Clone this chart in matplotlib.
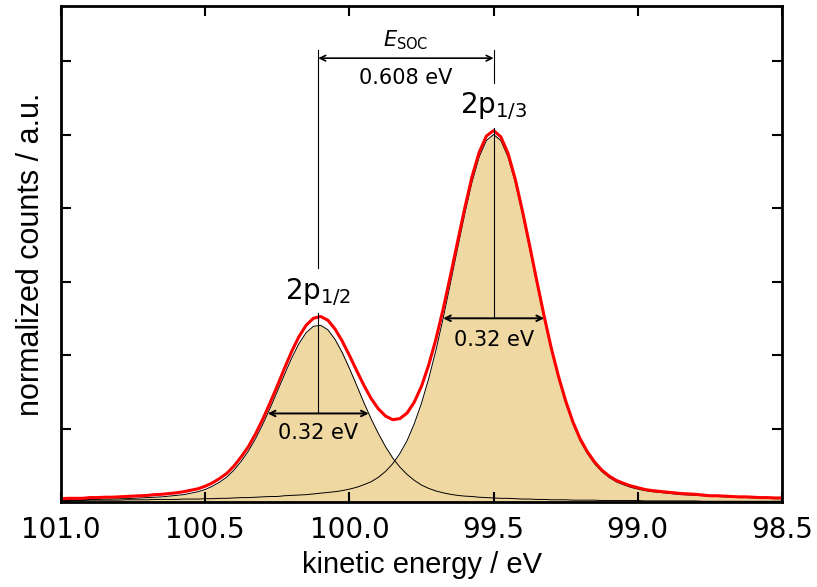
import matplotlib
matplotlib.use('Agg')
import matplotlib.pyplot as plt
import numpy as np
from matplotlib.ticker import FormatStrFormatter, MultipleLocator

# kinetic energy grid (eV), 0.025 eV steps from 101.0 down to 98.5
energy = np.linspace(101.0, 98.5, 101)

# 2p1/2 component (normalized counts)
comp_12 = [
    0.005, 0.006, 0.006, 0.006, 0.007, 0.007, 0.008, 0.008, 0.009, 0.009,
    0.010, 0.011, 0.012, 0.013, 0.014, 0.016, 0.018, 0.020, 0.024, 0.028,
    0.034, 0.043, 0.054, 0.068, 0.087, 0.111, 0.139, 0.173, 0.212, 0.255,
    0.301, 0.347, 0.392, 0.431, 0.461, 0.478, 0.481, 0.469, 0.443, 0.407,
    0.364, 0.318, 0.271, 0.227, 0.187, 0.151, 0.120, 0.095, 0.075, 0.059,
    0.046, 0.037, 0.030, 0.025, 0.021, 0.018, 0.016, 0.015, 0.013, 0.012,
    0.011, 0.010, 0.010, 0.009, 0.008, 0.008, 0.007, 0.007, 0.006, 0.006,
    0.006, 0.005, 0.005, 0.005, 0.005, 0.004, 0.004, 0.004, 0.004, 0.004,
    0.004, 0.003, 0.003, 0.003, 0.003, 0.003, 0.003, 0.003, 0.003, 0.002,
    0.002, 0.002, 0.002, 0.002, 0.002, 0.002, 0.002, 0.002, 0.002, 0.002,
    0.002,
]

# 2p1/3 component
comp_13 = [
    0.004, 0.004, 0.004, 0.004, 0.005, 0.005, 0.005, 0.005, 0.005, 0.006,
    0.006, 0.006, 0.006, 0.007, 0.007, 0.007, 0.007, 0.008, 0.008, 0.008,
    0.009, 0.009, 0.010, 0.010, 0.011, 0.012, 0.012, 0.013, 0.014, 0.015,
    0.015, 0.017, 0.018, 0.019, 0.020, 0.022, 0.024, 0.026, 0.028, 0.031,
    0.035, 0.040, 0.047, 0.055, 0.067, 0.083, 0.104, 0.132, 0.167, 0.213,
    0.269, 0.336, 0.413, 0.500, 0.594, 0.690, 0.784, 0.870, 0.939, 0.984,
    1.000, 0.984, 0.939, 0.870, 0.784, 0.690, 0.594, 0.500, 0.413, 0.336,
    0.269, 0.213, 0.167, 0.132, 0.104, 0.083, 0.067, 0.055, 0.047, 0.040,
    0.035, 0.031, 0.028, 0.026, 0.024, 0.022, 0.020, 0.019, 0.018, 0.017,
    0.015, 0.015, 0.014, 0.013, 0.012, 0.012, 0.011, 0.010, 0.010, 0.009,
    0.009,
]

centers = [100.108, 99.5]
heights = [0.482, 1.0]
fwhm_span = 0.35
labels = ['2p$_{1/2}$', '2p$_{1/3}$']
width_text = '0.32 eV'
soc_text = '0.608 eV'

comps = [np.array(comp_12), np.array(comp_13)]
total = comps[0] + comps[1]

fig = plt.figure(figsize=(8.17, 5.87), dpi=100)
ax = fig.add_axes([61/817, 1-502/587, 721/817, 496/587])

for y in comps:
    ax.fill_between(energy, 0, y, color='#F0D8A2', lw=0)
for y in comps:
    ax.plot(energy, y, color='k', lw=0.7, solid_joinstyle='round')
ax.plot(energy, total, color='red', lw=2.2, solid_joinstyle='round')

ax.set_xlim(101.0, 98.5)
ax.set_ylim(0, 1.35)
ax.xaxis.set_major_locator(MultipleLocator(0.5))
ax.xaxis.set_major_formatter(FormatStrFormatter('%.1f'))
ax.yaxis.set_major_locator(MultipleLocator(0.2))
ax.set_yticklabels([])
ax.tick_params(direction='in', length=7, width=1.5, top=True, right=True, labelsize=20)
ax.tick_params(axis='x', pad=10)
for s in ax.spines.values():
    s.set_linewidth(2)

ax.set_xlabel('kinetic energy / eV', fontsize=21, family='Liberation Sans', labelpad=5)
ax.set_ylabel('normalized counts / a.u.', fontsize=22, family='Liberation Sans', labelpad=7)

# spin-orbit splitting marker
y_soc = 1.208
ax.annotate('', xy=(centers[1], y_soc), xytext=(centers[0], y_soc),
            arrowprops=dict(arrowstyle='<->', lw=1.2, shrinkA=0, shrinkB=0))
ax.plot([centers[0], centers[0]], [0.637, 1.23], color='k', lw=0.8)
ax.plot([centers[1], centers[1]], [1.14, 1.23], color='k', lw=0.8)
mid = (centers[0] + centers[1]) / 2
ax.text(mid, 1.257, '$E_\\mathrm{SOC}$', ha='center', va='center', fontsize=15)
ax.text(mid, 1.154, soc_text, ha='center', va='center', fontsize=15)

# peak labels and widths
label_y = [0.57, 1.077]
top_y = [0.514, 1.018]
text_y = [0.188, 0.441]
for c, h, lab, ly, ty, wy in zip(centers, heights, labels, label_y, top_y, text_y):
    ax.plot([c, c], [h / 2, ty], color='k', lw=0.8)
    ax.annotate('', xy=(c - fwhm_span / 2, h / 2), xytext=(c + fwhm_span / 2, h / 2),
                arrowprops=dict(arrowstyle='<->', lw=1.4, shrinkA=0, shrinkB=0))
    ax.text(c, ly, lab, ha='center', va='center', fontsize=20)
    ax.text(c, wy, width_text, ha='center', va='center', fontsize=15)

fig.savefig('out.png', dpi=100)
